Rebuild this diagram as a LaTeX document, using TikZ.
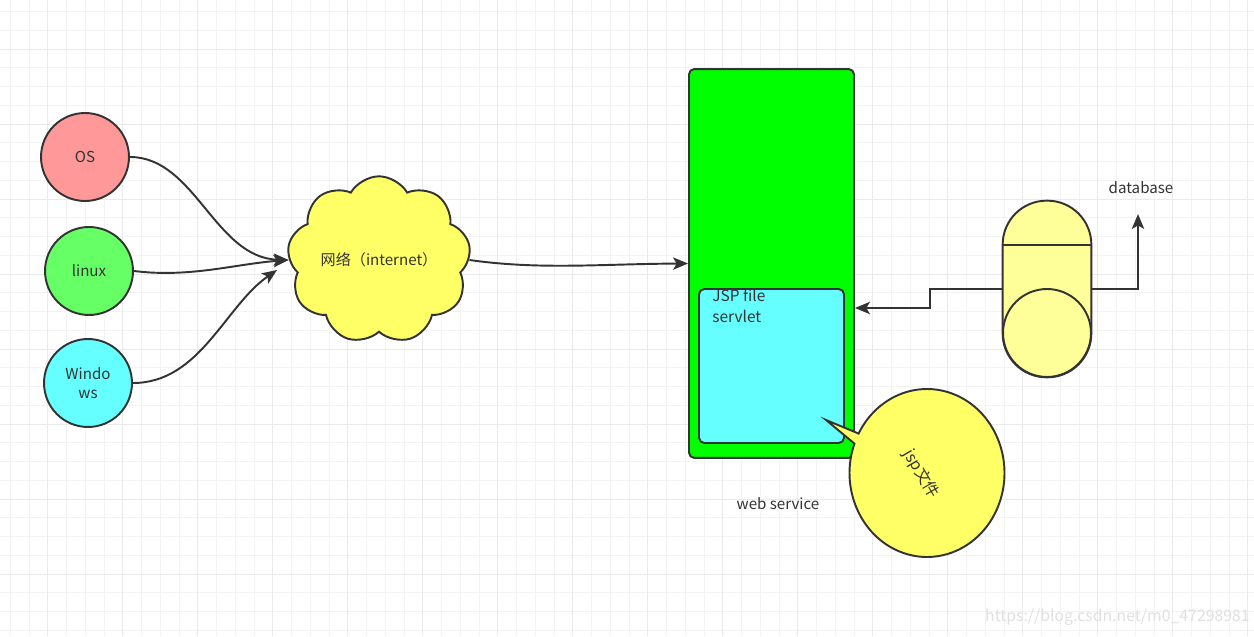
\documentclass[tikz,border=0pt]{standalone}
\usepackage{fontspec}
\setmainfont{Noto Sans CJK SC}
\usetikzlibrary{shapes.symbols,arrows.meta,calc}
\definecolor{strk}{HTML}{333333}
\definecolor{minorg}{HTML}{F3F3F3}
\definecolor{majorg}{HTML}{EAEAEA}
\definecolor{osred}{HTML}{FF9999}
\definecolor{lgreen}{HTML}{66FF66}
\definecolor{lcyan}{HTML}{66FFFF}
\definecolor{yel}{HTML}{FFFF66}
\definecolor{dbyel}{HTML}{FFFF99}
\definecolor{pgreen}{HTML}{00FF00}
\tikzset{
  circnode/.style={circle,draw=strk,line width=1.1pt,minimum size=1.76cm,inner sep=0pt,text=strk,align=center},
  arr/.style={draw=strk,line width=1.1pt,-{Stealth[length=8.5pt,width=7pt,inset=2pt]}},
  shapeline/.style={draw=strk,line width=1.1pt},
  lbl/.style={text=strk,inner sep=0pt},
}
\begin{document}
\begin{tikzpicture}[x=0.02cm,y=0.02cm,font=\fontsize{8.6}{11}\selectfont]
\fill[white] (0,0) rectangle (1254,636);
\useasboundingbox (0,0) rectangle (1254,636);
% grid
\foreach \k in {0,...,66} \draw[minorg,line width=0.5pt] ({10.2+18.75*\k},0) -- ++(0,636);
\foreach \k in {0,...,33} \draw[minorg,line width=0.5pt] (0,{624.5-18.75*\k}) -- ++(1254,0);
\foreach \m in {0,...,16} \draw[majorg,line width=0.55pt] ({47.7+75*\m},0) -- ++(0,636);
\foreach \m in {0,...,7} \draw[majorg,line width=0.55pt] (0,{587-75*\m}) -- ++(1254,0);

% client circles
\node[circnode,fill=osred] (os) at (85,479) {OS};
\node[circnode,fill=lgreen] (linux) at (89,365) {linux};
\node[circnode,fill=lcyan] (win) at (88,253) {Windo\\ws};

% cloud
\node[cloud,cloud puffs=9,cloud puff arc=120,aspect=1.15,shapeline,fill=yel,inner sep=0pt,
      minimum width=3.1cm,minimum height=2.75cm,text=strk] (net) at (379,376) {网络（internet）};

\coordinate (wtip) at (277,366);
\draw[arr] (os.east) .. controls (195,479) and (215,378) .. (net.west);
\draw[arr] (linux.east) .. controls (190,358) and (235,372) .. (net.west);
\draw[arr] (win.east) .. controls (200,253) and (225,330) .. (wtip);

% web service
\node[shapeline,fill=pgreen,rounded corners=3pt,minimum width=3.3cm,minimum height=7.78cm] (ws) at (771.5,372.5) {};
\node[shapeline,fill=lcyan,rounded corners=3pt,minimum width=2.9cm,minimum height=3.08cm] (jspbox) at (771.5,270) {};
\node[lbl,anchor=north west,align=left,font=\fontsize{8.8}{11.5}\selectfont] (jsptext) at (712,347) {JSP file\\servlet};
\node[lbl] (wslabel) at (778,132) {web service};

\draw[arr] (net.east) .. controls (540,366) and (600,372) .. (ws.west);

% callout
\coordinate (bc) at (927,163);
\coordinate (ctip) at (826,216);
\draw[shapeline,fill=yel] ($(bc)+(159.5:1.55cm and 1.68cm)$) arc[start angle=159.5,end angle=512,x radius=1.55cm,y radius=1.68cm] -- (ctip) -- cycle;
\node[lbl,rotate=-60,font=\fontsize{9}{11}\selectfont] (callouttext) at (921,162) {jsp文件};

% database
\node[minimum width=1.76cm,minimum height=3.52cm,inner sep=0pt] (db) at (1047,347) {};
\draw[shapeline,fill=dbyel,rounded corners=0.879cm] (db.south west) rectangle (db.north east);
\draw[shapeline] (1003,391) -- (1091,391);
\draw[shapeline] (1047,303) circle[radius=0.88cm];
\node[lbl] (dblabel) at (1141,448) {database};
\coordinate (dbtip) at (1138,422);
\draw[arr] (db.west) -- ++(-73,0) |- ($(ws.east)+(0,-44.5)$);
\draw[arr] (db.east) -| (dbtip);

% watermark
\node[anchor=east,text=black!12,inner sep=0pt,font=\fontsize{9}{11}\selectfont] (wm) at (1250,19) {https://blog.csdn.net/m0\_47298981};
\end{tikzpicture}
\end{document}
